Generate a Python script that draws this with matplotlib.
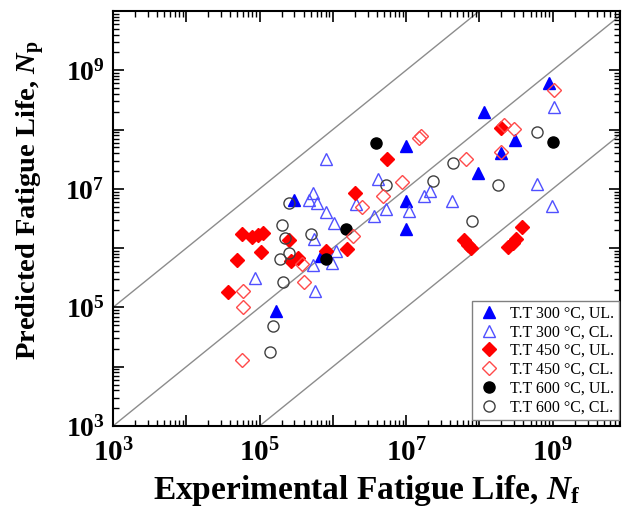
import numpy as np
import matplotlib
matplotlib.use("Agg")
import matplotlib.pyplot as plt
from matplotlib.ticker import FixedLocator, FuncFormatter, NullFormatter

plt.rcParams['font.family'] = ['Liberation Serif', 'DejaVu Serif']
plt.rcParams['mathtext.fontset'] = 'custom'
plt.rcParams['mathtext.rm'] = 'Liberation Serif'
plt.rcParams['mathtext.bf'] = 'Liberation Serif:bold'
plt.rcParams['mathtext.it'] = 'Liberation Serif:italic'
plt.rcParams['mathtext.bfit'] = 'Liberation Serif:italic:bold'

# ---- data (Nf experimental, Np predicted) ----
tt300_ul_nf = [8.8e8, 1.15e8, 3.1e8, 2.0e8, 1.0e7, 9.5e7, 1.0e7, 1.0e7, 3.0e5, 7.0e5, 1.7e5]
tt300_ul_np = [6.1e8, 1.97e8, 6.7e7, 4.0e7, 5.3e7, 1.85e7, 6.2e6, 2.1e6, 6.5e6, 7.4e5, 8.7e4]

tt300_cl_nf = [1.06e9, 6.05e8, 9.7e8, 4.2e7, 2.1e7, 1.76e7, 1.1e7, 5.35e6, 4.2e6, 3.6e6, 2.1e6,
               8.2e5, 5.3e5, 4.8e5, 6.1e5, 8.2e5, 1.05e6, 5.6e5, 1.12e6, 9.8e5, 5.3e5, 8.8e4, 5.8e5]
tt300_cl_np = [2.4e8, 1.2e7, 5.1e6, 6.2e6, 9.2e6, 7.6e6, 4.2e6, 4.6e6, 1.46e7, 3.5e6, 5.5e6,
               3.2e7, 8.5e6, 6.5e6, 5.8e6, 4.1e6, 2.65e6, 1.42e6, 8.9e5, 5.6e5, 5.2e5, 3.1e5, 1.9e5]

tt450_ul_nf = [2.0e8, 5.5e6, 2.0e6, 1.57e6, 8.2e5, 3.8e8, 6.15e7, 7.0e7, 7.7e7, 2.5e8, 2.85e8,
               3.2e8, 5.7e4, 8.0e4, 9.4e4, 1.1e5, 2.56e5, 1.06e5, 5.0e4, 2.7e5, 3.3e5, 3.7e4]
tt450_ul_np = [1.06e8, 3.2e7, 8.5e6, 9.7e5, 8.9e5, 2.27e6, 1.37e6, 1.13e6, 1.0e6, 1.04e6, 1.22e6,
               1.42e6, 1.73e6, 1.54e6, 1.66e6, 1.8e6, 1.37e6, 8.6e5, 6.3e5, 6.05e5, 6.8e5, 1.8e5]

tt450_cl_nf = [1.03e9, 2.15e8, 3.0e8, 2.0e8, 6.5e7, 1.6e7, 1.5e7, 8.8e6, 4.9e6, 2.5e6, 1.9e6,
               3.85e5, 4.0e5, 5.9e4, 5.9e4, 5.7e4]
tt450_cl_np = [4.6e8, 1.19e8, 1.02e8, 4.2e7, 3.2e7, 7.8e7, 7.2e7, 1.3e7, 7.6e6, 4.9e6, 1.6e6,
               5.4e5, 2.7e5, 1.9e5, 1.0e5, 1.3e4]

tt600_ul_nf = [1.0e9, 3.9e6, 1.53e6, 8.2e5]
tt600_ul_np = [6.15e7, 5.9e7, 2.1e6, 6.5e5]

tt600_cl_nf = [6.05e8, 1.8e8, 4.35e7, 2.3e7, 5.35e6, 7.9e7, 2.5e5, 2.0e5, 2.26e5, 5.1e5, 2.5e5,
               1.93e5, 2.06e5, 1.55e5, 1.37e5]
tt600_cl_np = [9.1e7, 1.16e7, 2.7e7, 1.36e7, 1.16e7, 2.9e6, 5.8e6, 2.45e6, 1.48e6, 1.73e6, 8.3e5,
               6.5e5, 2.7e5, 4.9e4, 1.8e4]

labels = ['T.T 300 °C, UL.', 'T.T 300 °C, CL.', 'T.T 450 °C, UL.',
          'T.T 450 °C, CL.', 'T.T 600 °C, UL.', 'T.T 600 °C, CL.']
factors = [100, 1, 0.01]
decades = [3, 4, 5, 6, 7, 8, 9]

fig = plt.figure(figsize=(6.22, 5.23), dpi=100)
ax = fig.add_axes([113/622, 97/523, 507/622, 415/523])

xmin, xmax = 1e3, 10**9.92
ymin, ymax = 1e3, 1e10

# scatter-band lines
xx = np.array([1e1, 1e11])
for f in factors:
    ax.plot(xx, xx * f, color='#8c8c8c', lw=1.0, zorder=1)

ax.plot(tt300_ul_nf, tt300_ul_np, ls='none', marker='^', ms=9, mfc='#0000ff', mec='#0000ff', mew=1, label=labels[0], zorder=3)
ax.plot(tt300_cl_nf, tt300_cl_np, ls='none', marker='^', ms=9, mfc='none', mec='#5050ff', mew=1, label=labels[1], zorder=3)
ax.plot(tt450_ul_nf, tt450_ul_np, ls='none', marker='D', ms=7, mfc='#ff0000', mec='#ff0000', mew=1, label=labels[2], zorder=3)
ax.plot(tt450_cl_nf, tt450_cl_np, ls='none', marker='D', ms=7, mfc='none', mec='#ff4a4a', mew=1, label=labels[3], zorder=4)
ax.plot(tt600_ul_nf, tt600_ul_np, ls='none', marker='o', ms=8, mfc='black', mec='black', mew=1, label=labels[4], zorder=3)
ax.plot(tt600_cl_nf, tt600_cl_np, ls='none', marker='o', ms=8, mfc='none', mec='#404040', mew=1, label=labels[5], zorder=3)

ax.set_xscale('log')
ax.set_yscale('log')
ax.set_xlim(xmin, xmax)
ax.set_ylim(ymin, ymax)

major = [10.0**d for d in decades + [10]]
minor = [m * 10.0**d for d in decades for m in range(2, 10)]
for axis in (ax.xaxis, ax.yaxis):
    axis.set_major_locator(FixedLocator(major))
    axis.set_minor_locator(FixedLocator(minor))
    axis.set_minor_formatter(NullFormatter())

def fmt(v, pos):
    e = int(round(np.log10(v)))
    if e % 2 == 1 and e < 10:
        return r'$\mathbf{10^{%d}}$' % e
    return ''

ax.xaxis.set_major_formatter(FuncFormatter(fmt))
ax.yaxis.set_major_formatter(FuncFormatter(fmt))

ax.tick_params(which='major', direction='in', length=8, width=1.2, top=True, right=True, pad=6)
ax.tick_params(axis='x', which='major', labelsize=21, pad=9)
ax.tick_params(axis='y', which='major', labelsize=20)
ax.tick_params(which='minor', direction='in', length=4, width=1.0, top=True, right=True)
for s in ax.spines.values():
    s.set_linewidth(1.5)

ax.set_xlabel(r'Experimental Fatigue Life, $\mathbfit{N}_\mathbf{f}$', fontsize=24, fontweight='bold', labelpad=4)
ax.set_ylabel(r'Predicted Fatigue Life, $\mathbfit{N}_\mathbf{p}$', fontsize=20.5, fontweight='bold')
ax.yaxis.set_label_coords(-0.13, 0.545)

leg = ax.legend(loc='lower right', bbox_to_anchor=(619/622, 103/523), bbox_transform=fig.transFigure,
                fontsize=11.5, frameon=True, fancybox=False, edgecolor='#808080', framealpha=1,
                borderaxespad=0, handletextpad=0.6, labelspacing=0.17, borderpad=0.3, handlelength=1.5)
leg.get_frame().set_linewidth(1.0)

fig.savefig('out.png', dpi=100)
